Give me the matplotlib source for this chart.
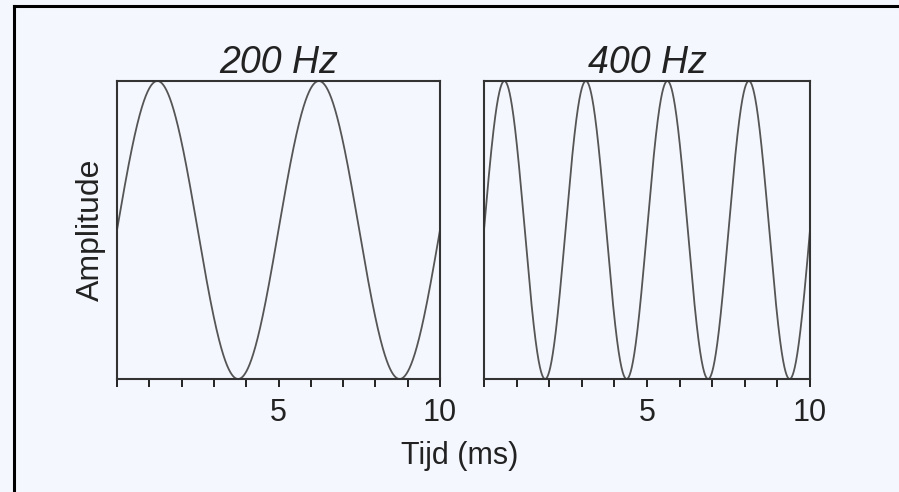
import numpy as np
import matplotlib
matplotlib.use("Agg")
import matplotlib.pyplot as plt
from matplotlib.lines import Line2D

# chart data
frequencies = [200, 400]            # Hz
titles = ["200 Hz", "400 Hz"]
t_start, t_end = 0, 10              # ms
tick_positions = list(range(0, 11))
tick_labels = ["", "", "", "", "", "5", "", "", "", "", "10"]
ylabel = "Amplitude"
xlabel = "Tijd (ms)"

bg = "#f4f7fd"
plt.rcParams['font.family'] = ['Liberation Sans', 'DejaVu Sans']

fig = plt.figure(figsize=(8.99, 4.92), dpi=100, facecolor=bg)

# outer frame (left and top edges visible)
fig.add_artist(Line2D([14 / 899, 14 / 899], [0, 1 - 6 / 492], transform=fig.transFigure,
                      color="black", lw=2.2))
fig.add_artist(Line2D([14 / 899, 1], [1 - 6 / 492, 1 - 6 / 492], transform=fig.transFigure,
                      color="black", lw=2.2))

positions = [
    [117 / 899, 1 - 379 / 492, 323 / 899, 298 / 492],
    [484 / 899, 1 - 379 / 492, 326 / 899, 298 / 492],
]

t = np.linspace(t_start, t_end, 2001)

for i, (freq, title) in enumerate(zip(frequencies, titles)):
    ax = fig.add_axes(positions[i])
    ax.set_facecolor(bg)
    y = np.sin(2 * np.pi * freq * t / 1000.0)
    ax.plot(t, y, color="#555555", lw=1.3)
    ax.set_xlim(t_start, t_end)
    ax.set_ylim(-1, 1)
    ax.set_yticks([])
    ax.set_xticks(tick_positions)
    ax.set_xticklabels(tick_labels)
    ax.tick_params(axis="x", direction="out", length=6, width=1.4, pad=8,
                   labelsize=22, color="#222222", labelcolor="#222222")
    for s in ax.spines.values():
        s.set_linewidth(1.5)
        s.set_color("#333333")
    ax.set_title(title, fontsize=27, style="italic", pad=5, color="#222222")
    if i == 0:
        ax.set_ylabel(ylabel, fontsize=23, labelpad=8, color="#222222")

fig.text(460 / 899, 1 - 456 / 492, xlabel, ha="center", va="center",
         fontsize=22, color="#222222")

fig.savefig("out.png", dpi=100, facecolor=bg)
